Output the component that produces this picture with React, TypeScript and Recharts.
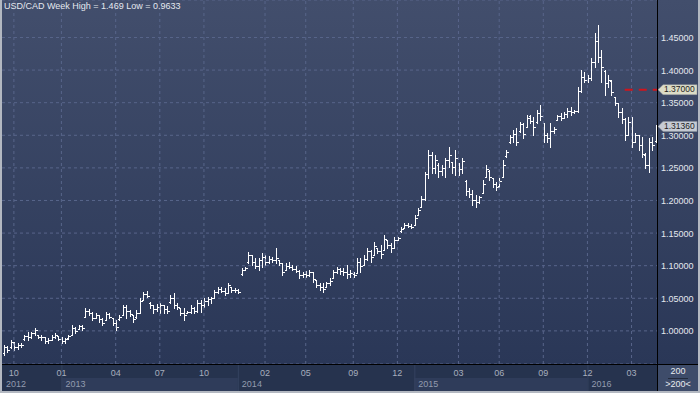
import React from 'react';
import { ComposedChart, Bar, XAxis, YAxis, CartesianGrid, ReferenceLine } from 'recharts';

// weekly USD/CAD bars, Sep 2012 .. spring 2016
const opens = [
  0.966, 0.975, 0.975, 0.982, 0.976, 0.978, 0.987, 0.992, 0.990, 0.996,
  0.993, 0.991, 0.990, 0.984, 0.986, 0.991, 0.992, 0.988, 0.984, 0.989,
  0.994, 1.005, 1.003, 1.007, 1.022, 1.031, 1.027, 1.020, 1.024, 1.018,
  1.017, 1.026, 1.020, 1.012, 1.018, 1.024, 1.036, 1.031, 1.024, 1.021,
  1.028, 1.047, 1.056, 1.042, 1.040, 1.034, 1.036, 1.039, 1.034, 1.044, 1.051,
  1.040, 1.035, 1.028, 1.027, 1.029, 1.035, 1.030, 1.043, 1.040, 1.046,
  1.049, 1.051, 1.060, 1.064, 1.061, 1.058, 1.067, 1.063, 1.062, 1.087,
  1.094, 1.105, 1.116, 1.106, 1.100, 1.108, 1.113, 1.105, 1.110, 1.108,
  1.108, 1.104, 1.094, 1.100, 1.098, 1.095, 1.092, 1.085, 1.088, 1.086,
  1.090, 1.078, 1.071, 1.068, 1.067, 1.073, 1.081, 1.090, 1.095, 1.092,
  1.090, 1.087, 1.088, 1.089, 1.106, 1.101, 1.110, 1.122, 1.116, 1.127, 1.122,
  1.124, 1.139, 1.132, 1.127, 1.140, 1.153, 1.158, 1.163, 1.161, 1.162,
  1.178, 1.190, 1.203, 1.240, 1.270, 1.250, 1.255, 1.245, 1.250, 1.262,
  1.259, 1.252, 1.258, 1.248, 1.230, 1.215, 1.210, 1.200, 1.198, 1.212,
  1.236, 1.245, 1.235, 1.225, 1.222, 1.236, 1.268, 1.289, 1.297, 1.302,
  1.306, 1.317, 1.313, 1.330, 1.322, 1.320, 1.334, 1.319, 1.300,
  1.296, 1.306, 1.324, 1.329, 1.327, 1.333, 1.338, 1.335, 1.337, 1.368,
  1.390, 1.385, 1.388, 1.412, 1.445, 1.420, 1.398, 1.380, 1.383,
  1.359, 1.350, 1.335, 1.325, 1.300, 1.320, 1.290, 1.300, 1.285, 1.270,
  1.255, 1.290, 1.292,
];

const highs = [
  0.978, 0.977, 0.986, 0.983, 0.981, 0.982, 0.994, 0.998, 0.998, 1.004,
  0.994, 0.994, 0.991, 0.989, 0.994, 0.997, 0.992, 0.991, 0.989, 0.994,
  1.009, 1.006, 1.009, 1.009, 1.035, 1.034, 1.029, 1.028, 1.024, 1.020,
  1.029, 1.028, 1.020, 1.017, 1.024, 1.040, 1.040, 1.032, 1.024, 1.032,
  1.050, 1.060, 1.061, 1.044, 1.040, 1.041, 1.043, 1.040, 1.038, 1.055, 1.058,
  1.043, 1.035, 1.035, 1.031, 1.040, 1.037, 1.047, 1.047, 1.050, 1.052,
  1.052, 1.063, 1.067, 1.067, 1.066, 1.074, 1.067, 1.066, 1.064, 1.097,
  1.098, 1.121, 1.116, 1.112, 1.112, 1.119, 1.116, 1.115, 1.113, 1.127,
  1.109, 1.104, 1.104, 1.106, 1.101, 1.100, 1.093, 1.090, 1.092, 1.093,
  1.090, 1.078, 1.074, 1.074, 1.075, 1.081, 1.093, 1.098, 1.097, 1.097,
  1.101, 1.094, 1.090, 1.112, 1.112, 1.116, 1.127, 1.124, 1.136, 1.127, 1.132,
  1.147, 1.139, 1.135, 1.144, 1.144, 1.159, 1.166, 1.166, 1.164, 1.178,
  1.189, 1.207, 1.244, 1.277, 1.274, 1.270, 1.258, 1.254, 1.265, 1.282,
  1.259, 1.277, 1.258, 1.265, 1.231, 1.219, 1.216, 1.208, 1.207, 1.231,
  1.254, 1.247, 1.235, 1.228, 1.235, 1.262, 1.277, 1.300, 1.308, 1.311,
  1.320, 1.319, 1.331, 1.331, 1.328, 1.339, 1.346, 1.319, 1.304,
  1.319, 1.313, 1.331, 1.334, 1.336, 1.342, 1.343, 1.339, 1.374, 1.400,
  1.397, 1.393, 1.419, 1.457, 1.469, 1.431, 1.400, 1.393, 1.385,
  1.359, 1.350, 1.342, 1.327, 1.328, 1.328, 1.304, 1.300, 1.297, 1.273,
  1.296, 1.297, 1.316,
];

const lows = [
  0.9633, 0.968, 0.974, 0.971, 0.972, 0.975, 0.986, 0.986, 0.989, 0.994,
  0.989, 0.986, 0.981, 0.981, 0.986, 0.989, 0.986, 0.981, 0.981, 0.988,
  0.994, 0.997, 1.003, 1.002, 1.021, 1.024, 1.017, 1.020, 1.014, 1.009,
  1.017, 1.020, 1.009, 1.001, 1.017, 1.024, 1.020, 1.023, 1.014, 1.020,
  1.027, 1.047, 1.052, 1.035, 1.028, 1.030, 1.028, 1.028, 1.028, 1.043, 1.035,
  1.033, 1.024, 1.017, 1.027, 1.028, 1.028, 1.029, 1.029, 1.037, 1.040,
  1.043, 1.050, 1.058, 1.060, 1.055, 1.058, 1.060, 1.060, 1.058, 1.086,
  1.093, 1.104, 1.101, 1.097, 1.094, 1.098, 1.101, 1.104, 1.106, 1.104,
  1.101, 1.086, 1.093, 1.096, 1.093, 1.090, 1.081, 1.083, 1.083, 1.084,
  1.075, 1.067, 1.063, 1.060, 1.067, 1.070, 1.081, 1.089, 1.088, 1.086,
  1.081, 1.082, 1.083, 1.089, 1.090, 1.101, 1.109, 1.106, 1.116, 1.120, 1.112,
  1.124, 1.127, 1.121, 1.127, 1.139, 1.152, 1.158, 1.159, 1.158, 1.162,
  1.177, 1.190, 1.201, 1.235, 1.242, 1.242, 1.236, 1.239, 1.236, 1.251,
  1.242, 1.239, 1.239, 1.242, 1.208, 1.205, 1.193, 1.190, 1.196, 1.212,
  1.236, 1.231, 1.221, 1.216, 1.221, 1.236, 1.267, 1.288, 1.290, 1.285,
  1.305, 1.296, 1.313, 1.319, 1.300, 1.319, 1.324, 1.290, 1.290,
  1.282, 1.304, 1.324, 1.324, 1.327, 1.328, 1.331, 1.334, 1.336, 1.366,
  1.382, 1.382, 1.385, 1.405, 1.412, 1.382, 1.362, 1.374, 1.362,
  1.347, 1.328, 1.319, 1.293, 1.300, 1.282, 1.290, 1.277, 1.267, 1.250,
  1.244, 1.277, 1.290,
];

const closes = [
  0.975, 0.970, 0.983, 0.976, 0.978, 0.979, 0.992, 0.990, 0.996, 1.001,
  0.991, 0.990, 0.984, 0.986, 0.991, 0.993, 0.988, 0.984, 0.987, 0.992,
  1.005, 1.000, 1.007, 1.004, 1.031, 1.027, 1.020, 1.024, 1.018, 1.012,
  1.026, 1.022, 1.012, 1.006, 1.021, 1.036, 1.031, 1.026, 1.018, 1.028,
  1.046, 1.056, 1.053, 1.040, 1.034, 1.037, 1.040, 1.034, 1.031, 1.051, 1.040,
  1.036, 1.028, 1.025, 1.029, 1.035, 1.030, 1.043, 1.040, 1.046, 1.049,
  1.050, 1.060, 1.064, 1.061, 1.058, 1.070, 1.063, 1.062, 1.060, 1.094,
  1.096, 1.116, 1.106, 1.100, 1.108, 1.113, 1.105, 1.110, 1.108, 1.112,
  1.104, 1.091, 1.100, 1.098, 1.095, 1.092, 1.085, 1.088, 1.086, 1.091,
  1.080, 1.071, 1.068, 1.064, 1.073, 1.076, 1.090, 1.095, 1.092, 1.090,
  1.087, 1.089, 1.085, 1.106, 1.100, 1.110, 1.122, 1.114, 1.130, 1.122, 1.118,
  1.141, 1.132, 1.127, 1.139, 1.142, 1.157, 1.163, 1.161, 1.160, 1.173,
  1.186, 1.203, 1.240, 1.270, 1.250, 1.262, 1.245, 1.250, 1.262, 1.270,
  1.252, 1.265, 1.248, 1.260, 1.215, 1.210, 1.200, 1.198, 1.205, 1.225,
  1.248, 1.236, 1.225, 1.220, 1.230, 1.255, 1.275, 1.297, 1.302, 1.290,
  1.317, 1.302, 1.327, 1.322, 1.312, 1.334, 1.330, 1.300, 1.296,
  1.306, 1.310, 1.329, 1.327, 1.333, 1.338, 1.335, 1.337, 1.368, 1.390,
  1.385, 1.388, 1.412, 1.445, 1.420, 1.405, 1.380, 1.385, 1.366,
  1.350, 1.335, 1.325, 1.300, 1.320, 1.290, 1.300, 1.285, 1.272, 1.255,
  1.290, 1.285, 1.3136,
];

// month ticks sit on the first bar of the month
const monthTicks = [3, 17, 33, 46, 59, 77, 89, 103, 116, 134, 146, 159, 172, 185];
const monthLabels = ['10', '01', '04', '07', '10', '02', '05', '09', '12', '03', '06', '09', '12', '03'];
const yearStarts = [-0.5, 17, 69, 121, 172];
const yearLabels = ['2012', '2013', '2014', '2015', '2016'];
const priceTicks = [1.0, 1.05, 1.1, 1.15, 1.2, 1.25, 1.3, 1.35, 1.4, 1.45];
const targetLevel = 1.37;
const targetFrom = 183;

const N = closes.length;
const data = closes.map((c, i) => ({ i, open: opens[i], high: highs[i], low: lows[i], close: c }));
const lastClose = closes[N - 1];
const xTicks = Array.from(new Set([...yearStarts, ...monthTicks])).sort((a, b) => a - b);

const FONT = '"Liberation Sans", Arial, sans-serif';

const OhlcBar = (props: any) => {
  const { x, y, width, height, payload } = props;
  if (!payload) return null;
  const top = Math.min(y, y + height);
  const bot = Math.max(y, y + height);
  const span = payload.high - payload.low || 1;
  const py = (v: number) => Math.round(top + ((payload.high - v) / span) * (bot - top)) + 0.5;
  const cx = Math.round(x + width / 2) + 0.5;
  return (
    <g stroke="#ffffff" strokeWidth={1} shapeRendering="crispEdges">
      <line x1={cx} x2={cx} y1={Math.round(top)} y2={Math.round(bot) + 1} />
      <line x1={cx - 2} x2={cx} y1={py(payload.open)} y2={py(payload.open)} />
      <line x1={cx} x2={cx + 2} y1={py(payload.close)} y2={py(payload.close)} />
    </g>
  );
};

const XTick = (props: any) => {
  const { x, y, payload, width } = props;
  const v = payload.value;
  const unit = (width || 655) / N;
  const mi = monthTicks.indexOf(v);
  const yi = yearStarts.indexOf(v);
  let yearPart = null;
  if (yi >= 0) {
    const next = yi + 1 < yearStarts.length ? yearStarts[yi + 1] : N - 0.5;
    const w = (next - v) * unit;
    yearPart = (
      <g>
        <rect x={x} y={y + 14} width={w} height={13} fill={yi % 2 ? '#2f3c5a' : 'none'} />
        {yi > 0 && <line x1={x + 0.5} x2={x + 0.5} y1={y} y2={y + 27} stroke="#34425f" />}
        <text x={x + 4} y={y + 23} fill="#929bae" fontSize={9} fontFamily={FONT}>{yearLabels[yi]}</text>
      </g>
    );
  }
  return (
    <g>
      {yearPart}
      {mi >= 0 && (
        <text x={x} y={y + 12} fill="#a7aebd" fontSize={9} fontFamily={FONT} textAnchor="middle">
          {monthLabels[mi]}
        </text>
      )}
    </g>
  );
};

const YTick = (props: any) => {
  const { x, y, payload } = props;
  return (
    <text x={x + 4} y={y + 3.5} fill="#e4e8ef" fontSize={9} fontFamily={FONT}>
      {payload.value.toFixed(5)}
    </text>
  );
};

const PriceTag = ({ viewBox, text, fill }: any) => {
  if (!viewBox) return null;
  const x0 = viewBox.x + viewBox.width + 1;
  const cy = viewBox.y;
  return (
    <g>
      <path
        d={`M${x0},${cy} L${x0 + 5},${cy - 5} L${x0 + 39},${cy - 5} L${x0 + 39},${cy + 5} L${x0 + 5},${cy + 5} Z`}
        fill={fill}
        stroke="#8d929c"
        strokeWidth={0.5}
      />
      <text x={x0 + 6} y={cy + 2.6} fill="#1c1c1c" fontSize={8.5} fontFamily={FONT}>{text}</text>
    </g>
  );
};

export default function App() {
  return (
    <div style={{ position: 'absolute', left: 0, top: 0, width: 700, height: 393, background: '#b3b8c1', overflow: 'hidden', fontFamily: FONT }}>
      <div style={{ position: 'absolute', left: 2, top: 0, width: 696, height: 364, background: 'linear-gradient(to bottom, #424e6c, #2a3757)' }} />
      <div style={{ position: 'absolute', left: 2, top: 364, width: 696, height: 27, background: '#26334e' }} />
      <div style={{ position: 'absolute', left: 0, top: 0 }}>
        <ComposedChart width={700} height={393} data={data} margin={{ top: 0, right: 2, bottom: 2, left: 2 }}>
          <CartesianGrid vertical={false} stroke="#58658a" strokeDasharray="3 3" />
          {monthTicks.map(t => (
            <ReferenceLine key={'m' + t} x={t} stroke="#58658a" strokeDasharray="3 3" />
          ))}
          <XAxis
            dataKey="i"
            type="number"
            domain={[-0.5, N - 0.5]}
            ticks={xTicks}
            interval={0}
            allowDataOverflow
            tick={<XTick />}
            tickLine={false}
            axisLine={false}
            tickSize={0}
            tickMargin={0}
            height={27}
          />
          <YAxis
            orientation="right"
            domain={[0.9492, 1.5075]}
            ticks={priceTicks}
            interval={0}
            allowDataOverflow
            tick={<YTick />}
            tickLine={false}
            axisLine={false}
            tickSize={0}
            tickMargin={0}
            width={41}
          />
          <Bar dataKey={(d: any) => [d.low, d.high]} barSize={2} shape={OhlcBar} isAnimationActive={false} />
          <ReferenceLine
            segment={[{ x: targetFrom, y: targetLevel }, { x: N - 0.5, y: targetLevel }]}
            stroke="#d0141c"
            strokeWidth={2}
            strokeDasharray="8 6"
          />
          <ReferenceLine
            y={targetLevel}
            stroke="none"
            label={(p: any) => <PriceTag viewBox={p.viewBox} text={targetLevel.toFixed(5)} fill="#dcdcc6" />}
          />
          <ReferenceLine
            y={lastClose}
            stroke="none"
            label={(p: any) => <PriceTag viewBox={p.viewBox} text={lastClose.toFixed(5)} fill="#c6cbd4" />}
          />
        </ComposedChart>
      </div>
      <div style={{ position: 'absolute', left: 657, top: 0, width: 1, height: 391, background: '#000' }} />
      <div style={{ position: 'absolute', left: 2, top: 364, width: 696, height: 1, background: '#000' }} />
      <div style={{ position: 'absolute', left: 4, top: 1, color: '#e4e8ef', fontSize: 9, lineHeight: '11px', whiteSpace: 'nowrap' }}>
        {`USD/CAD Week High = ${Math.max(...highs)} Low = ${Math.min(...lows)}`}
      </div>
      <div style={{ position: 'absolute', left: 658, top: 365, width: 40, height: 26, background: '#3e4c6a', color: '#e8ebf0', fontSize: 9, textAlign: 'center' }}>
        <div style={{ lineHeight: '11px', marginTop: 1 }}>200</div>
        <div style={{ height: 1, background: '#232b3d', margin: '1px 10px 0' }} />
        <div style={{ lineHeight: '11px' }}>&gt;200&lt;</div>
      </div>
    </div>
  );
}
